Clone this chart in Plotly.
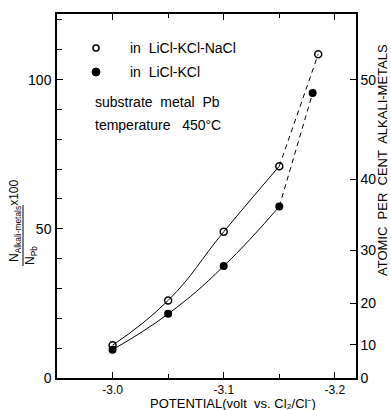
import plotly.graph_objects as go

# ---- data ----
pot_open = [-3.00, -3.05, -3.10, -3.15, -3.185]
val_open = [11, 26, 49, 71, 108.5]
pot_fill = [-3.00, -3.05, -3.10, -3.15, -3.18]
val_fill = [9.5, 21.5, 37.5, 57.5, 95.5]
x_ticks = [-3.0, -3.1, -3.2]
x_ticklabels = ["-3.0", "-3.1", "-3.2"]
left_ticks = [0, 50, 100]
right_pct = [0, 10, 20, 30, 40, 50]

W, H = 391, 410
L, R, T, B = 57, 35, 14, 32
pw, ph = W - L - R, H - T - B

def px(x):
    return (x - L) / pw

def py(y):
    return (H - B - y) / ph

FONT = "Liberation Sans"
fig = go.Figure()

for xs, ys in [(pot_open, val_open), (pot_fill, val_fill)]:
    fig.add_trace(go.Scatter(x=xs[:4], y=ys[:4], mode="lines",
                             line=dict(color="black", width=1, shape="spline", smoothing=1.3),
                             showlegend=False, hoverinfo="skip"))
    fig.add_trace(go.Scatter(x=xs[3:], y=ys[3:], mode="lines",
                             line=dict(color="black", width=1, dash="5px,4px"),
                             showlegend=False, hoverinfo="skip"))

fig.add_trace(go.Scatter(x=pot_open, y=val_open, mode="markers",
                         marker=dict(symbol="circle-open", size=7, color="black",
                                     line=dict(width=1.5)),
                         showlegend=False))
fig.add_trace(go.Scatter(x=pot_fill, y=val_fill, mode="markers",
                         marker=dict(symbol="circle", size=8, color="black"),
                         showlegend=False))

# right axis positions: atomic % p corresponds to 100*p/(100-p) on left scale
right_pos = [100 * p / (100 - p) for p in right_pct]
fig.add_trace(go.Scatter(x=[pot_open[0]], y=[val_open[0]], yaxis="y2",
                         mode="markers", marker=dict(opacity=0),
                         showlegend=False, hoverinfo="skip"))

yr = [0, 122]
fig.update_layout(
    width=W, height=H, autosize=False,
    margin=dict(l=L, r=R, t=T, b=B, autoexpand=False),
    paper_bgcolor="white", plot_bgcolor="white",
    font=dict(family=FONT, size=14, color="black"),
    xaxis=dict(range=[-2.95, -3.219], tickvals=x_ticks, ticktext=x_ticklabels,
               ticks="inside", ticklen=6, tickcolor="black", automargin=False,
               showline=True, linecolor="black", linewidth=1.5, mirror="ticks",
               showgrid=False, zeroline=False, ticklabelstandoff=0,
               tickfont=dict(size=12),
               minor=dict(dtick=0.05, tick0=-3.0, ticks="inside", ticklen=4,
                          tickcolor="black", showgrid=False)),
    yaxis=dict(range=yr, tickvals=left_ticks, ticks="inside", ticklen=6,
               tickcolor="black", showline=True, linecolor="black", linewidth=1.5,
               showgrid=False, zeroline=False, automargin=False, ticklabelstandoff=1,
               minor=dict(dtick=10, ticks="inside", ticklen=5, tickcolor="black",
                          showgrid=False)),
    yaxis2=dict(range=yr, overlaying="y", side="right", tickvals=right_pos,
                ticktext=[str(p) for p in right_pct], ticks="inside", ticklen=6,
                tickcolor="black", showline=True, linecolor="black", linewidth=1.5,
                showgrid=False, zeroline=False, ticklabelstandoff=0, automargin=False),
)

ann = []
def text(x, y, s, size=14, xanchor="left", angle=0):
    ann.append(dict(x=px(x), y=py(y), xref="paper", yref="paper", text=s,
                    showarrow=False, xanchor=xanchor, yanchor="middle",
                    textangle=angle, font=dict(size=size, family=FONT)))

text(128, 48, "in  LiCl-KCl-NaCl")
text(128, 72, "in  LiCl-KCl")
text(93, 102, "substrate  metal  Pb")
text(93, 125, "temperature   450°C")
text(233, 403, "POTENTIAL(volt  vs. Cl₂/Cl⁻)", size=13, xanchor="center")
text(382, 160, "ATOMIC  PER  CENT  ALKALI-METALS", size=13, xanchor="center", angle=-90)
text(15, 221, "N<sub>Alkali-metals</sub>x100", size=12, xanchor="center", angle=-90)
text(31, 256, "N<sub>Pb</sub>", size=12, xanchor="center", angle=-90)
fig.update_layout(annotations=ann)

shapes = [
    dict(type="line", xref="paper", yref="paper", x0=px(23), x1=px(23),
         y0=py(205), y1=py(266), line=dict(color="black", width=1)),
    dict(type="circle", xref="paper", yref="paper", xsizemode="pixel", ysizemode="pixel",
         xanchor=px(96), yanchor=py(48), x0=-3, x1=3, y0=-3, y1=3,
         line=dict(color="black", width=1.5), fillcolor="white"),
    dict(type="circle", xref="paper", yref="paper", xsizemode="pixel", ysizemode="pixel",
         xanchor=px(96), yanchor=py(72), x0=-4, x1=4, y0=-4, y1=4,
         line=dict(color="black", width=1), fillcolor="black"),
]
fig.update_layout(shapes=shapes)

fig.write_html("out.html", config={"displayModeBar": False},
               post_script="document.body.style.margin='0';document.body.style.overflow='hidden';")
